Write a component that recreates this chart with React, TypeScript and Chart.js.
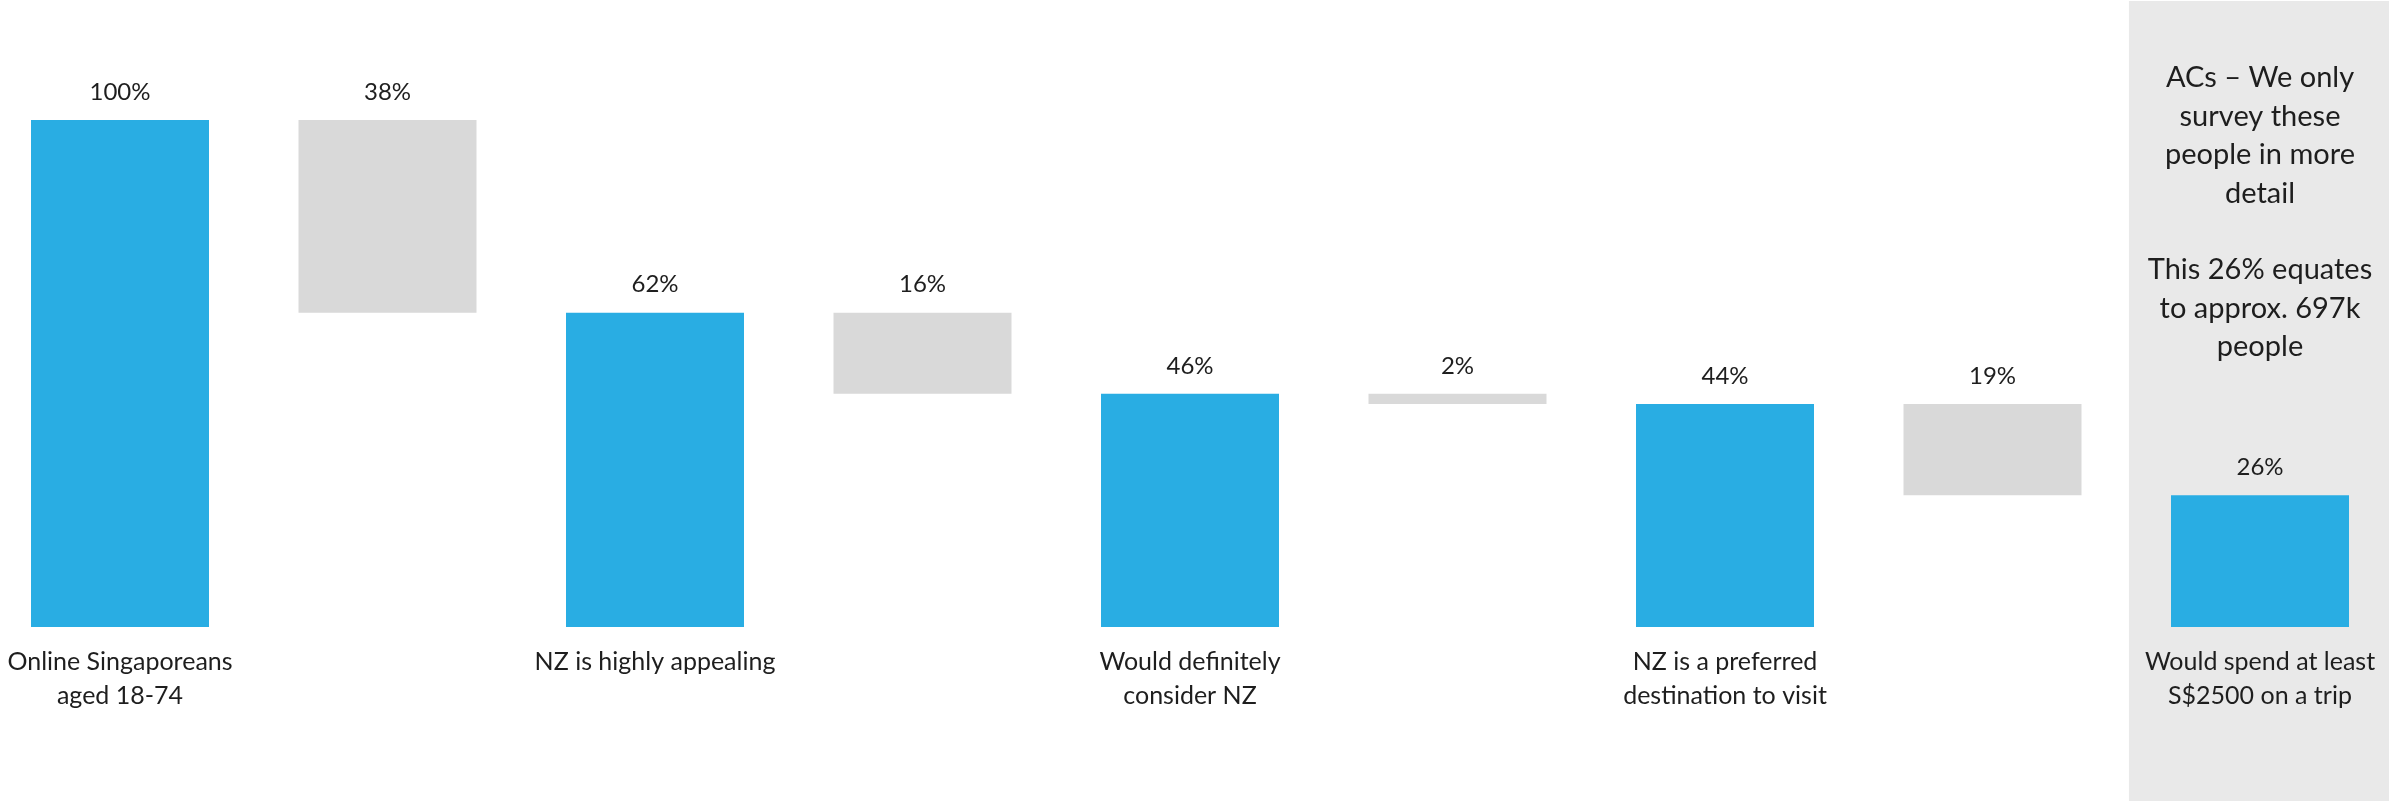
import React, { useEffect, useRef } from "react";
import { Chart, registerables } from "chart.js";

Chart.register(...registerables);

// ---- data ----
const categories: string[][] = [
  ["Online Singaporeans", "aged 18-74"],
  [],
  ["NZ is highly appealing"],
  [],
  ["Would definitely", "consider NZ"],
  [],
  ["NZ is a preferred", "destination to visit"],
  [],
  ["Would spend at least", "S$2500 on a trip"],
];
const totals = [100, 62, 46, 44, 26];
const totalLabels = ["100%", "62%", "46%", "44%", "26%"];
const dropLabels = ["38%", "16%", "2%", "19%"];
const noteLines = [
  "ACs \u2013 We only",
  "survey these",
  "people in more",
  "detail",
  "",
  "This 26% equates",
  "to approx. 697k",
  "people",
];

const BLUE = "#29ADE3";
const GREY = "#D9D9D9";
const PANEL = "#E9E9E9";
const TEXT = "#1E1E1E";
const FONT = "Lato, 'Noto Sans', sans-serif";

export default function App() {
  const ref = useRef<HTMLCanvasElement>(null);

  useEffect(() => {
    const canvas = ref.current;
    if (!canvas) return;

    const data: [number, number][] = [];
    const colors: string[] = [];
    const valueLabels: string[] = [];
    totals.forEach((t, i) => {
      data.push([0, t]);
      colors.push(BLUE);
      valueLabels.push(totalLabels[i]);
      if (i < totals.length - 1) {
        data.push([totals[i + 1], t]);
        colors.push(GREY);
        valueLabels.push(dropLabels[i]);
      }
    });

    const panelPlugin = {
      id: "panel",
      beforeDraw(chart: any) {
        const { ctx } = chart;
        const xs = chart.scales.x;
        const step = xs.getPixelForValue(1) - xs.getPixelForValue(0);
        const left = xs.getPixelForValue(categories.length - 1) - step * 0.49;
        ctx.save();
        ctx.fillStyle = PANEL;
        ctx.fillRect(left, 1, chart.width - left, chart.height - 1);
        ctx.restore();
      },
    };

    const labelPlugin = {
      id: "labels",
      afterDraw(chart: any) {
        const { ctx, chartArea } = chart;
        const xs = chart.scales.x;
        const ys = chart.scales.y;
        ctx.save();
        ctx.fillStyle = TEXT;
        ctx.textAlign = "center";
        ctx.textBaseline = "middle";
        // value labels
        ctx.font = `24px ${FONT}`;
        data.forEach((d, i) => {
          const x = xs.getPixelForValue(i);
          const y = ys.getPixelForValue(d[1]) - 28;
          ctx.fillText(valueLabels[i], x, y);
        });
        // category labels
        ctx.font = `25px ${FONT}`;
        categories.forEach((lines, i) => {
          const x = xs.getPixelForValue(i);
          lines.forEach((ln, j) => {
            ctx.fillText(ln, x, chartArea.bottom + 35 + j * 34);
          });
        });
        // note
        ctx.font = `29px ${FONT}`;
        const nx = xs.getPixelForValue(categories.length - 1);
        noteLines.forEach((ln, j) => {
          if (ln) ctx.fillText(ln, nx, 78 + j * 38.4);
        });
        ctx.restore();
      },
    };

    const chart = new Chart(canvas, {
      type: "bar",
      data: {
        labels: categories.map((c) => c.join(" ")),
        datasets: [
          {
            data,
            backgroundColor: colors,
            borderWidth: 0,
            categoryPercentage: 1,
            barPercentage: 0.6654,
            clip: false as any,
          },
        ],
      },
      options: {
        animation: false,
        responsive: false,
        maintainAspectRatio: false,
        layout: { padding: { left: 120, right: 129, top: 120, bottom: 174 } },
        plugins: { legend: { display: false }, tooltip: { enabled: false } },
        scales: {
          x: { display: false, offset: false },
          y: { display: false, min: 0, max: 100 },
        },
      },
      plugins: [panelPlugin, labelPlugin],
    });
    return () => chart.destroy();
  }, []);

  return (
    <div style={{ position: "fixed", left: 0, top: 0, width: 2389, height: 801, background: "#fff" }}>
      <canvas ref={ref} width={2389} height={801} style={{ width: 2389, height: 801, display: "block" }} />
    </div>
  );
}
